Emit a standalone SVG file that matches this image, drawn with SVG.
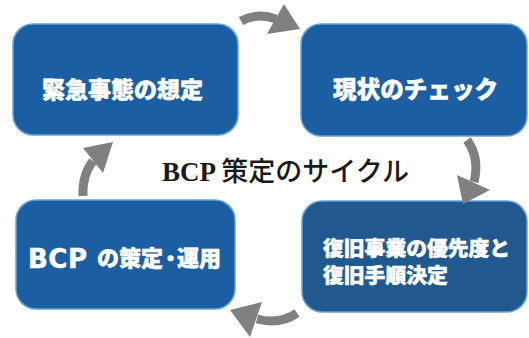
<svg xmlns="http://www.w3.org/2000/svg" width="529" height="338" viewBox="0 0 529 338">
<style>
.box{fill:#1b5fa2;stroke:#6aa3d6;stroke-width:1.5}
.box.dk{fill:#21598f}
.lbl{font-family:"Noto Sans CJK JP","Noto Sans",sans-serif;font-weight:900;fill:#fff;stroke:#fff;stroke-width:0.5}
.lat{font-family:"DejaVu Sans","Noto Sans",sans-serif;font-weight:700}
.title{font-family:"Liberation Serif","Noto Sans CJK JP",serif;font-weight:700;fill:#1a1a1a;font-size:27px}
.tcjk{font-family:"Noto Sans CJK JP",sans-serif;font-weight:500}
.tail{fill:none;stroke:#808080;stroke-width:9}
.head{fill:#808080}
</style>
<rect width="529" height="338" fill="#fff"/>
<g id="node-emergency">
<rect class="box" x="13" y="24" width="225" height="111" rx="20"/>
<text class="lbl" x="42" y="98" font-size="23">緊急事態の想定</text>
</g>
<g id="node-check">
<rect class="box" x="301" y="24" width="226" height="112" rx="20"/>
<text class="lbl" x="333" y="98" font-size="23.6">現状のチェック</text>
</g>
<g id="node-priority">
<rect class="box dk" x="302" y="201" width="225" height="111" rx="20"/>
<text class="lbl" x="323" y="256" font-size="20.8">復旧事業の優先度と</text>
<text class="lbl" x="323" y="283" font-size="20.8">復旧手順決定</text>
</g>
<g id="node-bcp">
<rect class="box" x="16" y="200" width="219" height="109" rx="20"/>
<text class="lbl" y="266" font-size="22"><tspan class="lat" x="28" y="268" font-size="26" letter-spacing="0.5">BCP</tspan><tspan x="97" y="266">の策定</tspan><tspan x="164" y="263" font-size="13" stroke-width="2.5">・</tspan><tspan x="177" y="266">運用</tspan></text>
</g>
<text class="title" x="162" y="181">BCP <tspan class="tcjk">策定のサイクル</tspan></text>
<g id="connectors">
<path class="tail" d="M241,21 Q258,12 276,19"/>
<polygon class="head" points="284,4 300,29 267,34"/>
<path class="tail" d="M467,140 Q480,158 474,182"/>
<polygon class="head" points="457,175 490,190 463,204"/>
<path class="tail" d="M297,313 Q280,325 257,319"/>
<polygon class="head" points="230,310 262,302 250,337"/>
<path class="tail" d="M83,196 Q82,175 93,161"/>
<polygon class="head" points="113,142 83,148 103,173"/>
</g>
</svg>
